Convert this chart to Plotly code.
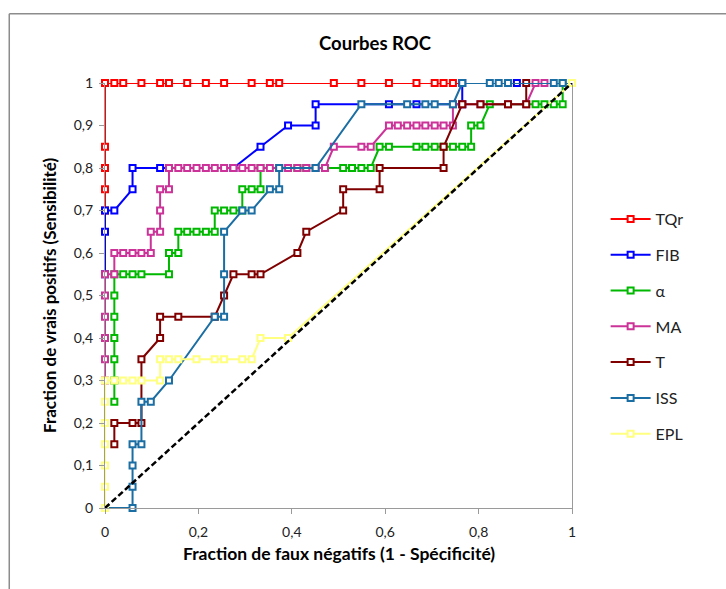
import plotly.graph_objects as go

# ROC curves: x = 1 - specificity, y = sensitivity
tqr_x = [0, 0, 0, 0, 0, 0.020, 0.039, 0.078, 0.118, 0.137, 0.176, 0.216, 0.255,
         0.314, 0.353, 0.373, 0.490, 0.549, 0.608, 0.667, 0.706, 0.725, 0.745, 1]
tqr_y = [0.70, 0.75, 0.80, 0.85, 1, 1, 1, 1, 1, 1, 1, 1, 1,
         1, 1, 1, 1, 1, 1, 1, 1, 1, 1, 1]

fib_x = [0, 0, 0, 0.020, 0.059, 0.059, 0.118, 0.275, 0.333, 0.392, 0.451, 0.451,
         0.608, 0.667, 0.765, 0.765, 0.882, 1]
fib_y = [0.55, 0.65, 0.70, 0.70, 0.75, 0.80, 0.80, 0.80, 0.85, 0.90, 0.90, 0.95,
         0.95, 0.95, 0.95, 1, 1, 1]

alpha_x = [0.020, 0.020, 0.020, 0.020, 0.020, 0.020, 0.020,
           0.039, 0.059, 0.078, 0.137,
           0.137, 0.157,
           0.157, 0.176, 0.196, 0.216, 0.235,
           0.235, 0.255, 0.275, 0.294,
           0.294, 0.314, 0.333,
           0.333, 0.412, 0.431, 0.510, 0.529, 0.549, 0.569,
           0.588, 0.608, 0.667, 0.686, 0.706, 0.725, 0.745, 0.765, 0.784,
           0.784, 0.804,
           0.824, 0.922, 0.941, 0.961, 0.980,
           0.980, 1]
alpha_y = [0.25, 0.30, 0.35, 0.40, 0.45, 0.50, 0.55,
           0.55, 0.55, 0.55, 0.55,
           0.60, 0.60,
           0.65, 0.65, 0.65, 0.65, 0.65,
           0.70, 0.70, 0.70, 0.70,
           0.75, 0.75, 0.75,
           0.80, 0.80, 0.80, 0.80, 0.80, 0.80, 0.80,
           0.85, 0.85, 0.85, 0.85, 0.85, 0.85, 0.85, 0.85, 0.85,
           0.90, 0.90,
           0.95, 0.95, 0.95, 0.95, 0.95,
           1, 1]

ma_x = [0, 0, 0, 0, 0, 0, 0.020, 0.020, 0.039, 0.059, 0.078, 0.098, 0.098, 0.118,
        0.118, 0.118, 0.137, 0.137,
        0.157, 0.176, 0.196, 0.216, 0.235, 0.255, 0.275, 0.294, 0.314, 0.333,
        0.353, 0.373, 0.392, 0.412, 0.431, 0.451, 0.471,
        0.490, 0.549, 0.569,
        0.608, 0.627, 0.647, 0.667, 0.686, 0.706, 0.725, 0.745,
        0.745, 0.765, 0.804, 0.863, 0.902,
        0.922, 0.941, 1]
ma_y = [0.30, 0.35, 0.40, 0.45, 0.50, 0.55, 0.55, 0.60, 0.60, 0.60, 0.60, 0.60, 0.65, 0.65,
        0.70, 0.75, 0.75, 0.80,
        0.80, 0.80, 0.80, 0.80, 0.80, 0.80, 0.80, 0.80, 0.80, 0.80,
        0.80, 0.80, 0.80, 0.80, 0.80, 0.80, 0.80,
        0.85, 0.85, 0.85,
        0.90, 0.90, 0.90, 0.90, 0.90, 0.90, 0.90, 0.90,
        0.95, 0.95, 0.95, 0.95, 0.95,
        1, 1, 1]

t_x = [0.020, 0.020, 0.059, 0.078, 0.078, 0.118, 0.118, 0.157, 0.235, 0.255, 0.275,
       0.314, 0.333, 0.412, 0.431, 0.510, 0.510, 0.588, 0.588, 0.725, 0.725,
       0.765, 0.804, 0.863, 0.902, 0.902, 1]
t_y = [0.15, 0.20, 0.20, 0.20, 0.35, 0.40, 0.45, 0.45, 0.45, 0.50, 0.55,
       0.55, 0.55, 0.60, 0.65, 0.70, 0.75, 0.75, 0.80, 0.80, 0.85,
       0.95, 0.95, 0.95, 0.95, 1, 1]

iss_x = [0, 0.059, 0.059, 0.059, 0.059, 0.078, 0.078, 0.098, 0.137, 0.235, 0.255,
         0.255, 0.255, 0.294, 0.314, 0.353, 0.373, 0.373, 0.451, 0.549, 0.647,
         0.686, 0.706, 0.745, 0.765, 0.824, 0.843, 0.863, 0.961, 0.980, 1]
iss_y = [0, 0, 0.05, 0.10, 0.15, 0.15, 0.25, 0.25, 0.30, 0.45, 0.45,
         0.55, 0.65, 0.70, 0.70, 0.75, 0.75, 0.80, 0.80, 0.95, 0.95,
         0.95, 0.95, 0.95, 1, 1, 1, 1, 1, 1, 1]

epl_x = [0, 0, 0, 0, 0, 0, 0, 0.020, 0.039, 0.059, 0.078, 0.118, 0.118, 0.137,
         0.157, 0.196, 0.235, 0.255, 0.294, 0.314, 0.333, 0.392, 1]
epl_y = [0, 0.05, 0.10, 0.15, 0.20, 0.25, 0.30, 0.30, 0.30, 0.30, 0.30, 0.30, 0.35, 0.35,
         0.35, 0.35, 0.35, 0.35, 0.35, 0.35, 0.40, 0.40, 1]

series = [
    ("TQr", tqr_x, tqr_y, "#FF0000"),
    ("FIB", fib_x, fib_y, "#0000FF"),
    ("α", alpha_x, alpha_y, "#00B800"),
    ("MA", ma_x, ma_y, "#CC3399"),
    ("T", t_x, t_y, "#800000"),
    ("ISS", iss_x, iss_y, "#1B6EA3"),
    ("EPL", epl_x, epl_y, "#FFFF80"),
]

ref_x = [0, 1]
ref_y = [0, 1]

fig = go.Figure()
for name, xs, ys, color in series:
    fig.add_trace(go.Scatter(
        x=xs, y=ys, name=name, mode="lines+markers",
        legendgroup=name,
        line=dict(color=color, width=2),
        marker=dict(symbol="square", size=6, color="white",
                    line=dict(color=color, width=2)),
        cliponaxis=False,
    ))

# chance diagonal
fig.add_trace(go.Scatter(
    x=ref_x, y=ref_y, mode="lines", showlegend=False,
    line=dict(color="black", width=2.5, dash="6px,3px"),
    cliponaxis=False,
))

FONT = "Lato"
axis_common = dict(
    range=[0, 1], showgrid=False, zeroline=False,
    showline=True, linecolor="#9A9A9A", linewidth=1.3,
    ticks="outside", ticklen=5, tickcolor="#9A9A9A", tickwidth=1.3,
    tickfont=dict(family=FONT, size=14, color="#222222"),
)

fig.update_layout(
    width=726, height=589,
    margin=dict(l=105, r=154, t=83, b=81),
    paper_bgcolor="white", plot_bgcolor="white",
    separators=", ",
    font=dict(family=FONT, size=14, color="black"),
    title=dict(text="<b>Courbes ROC</b>", xref="container", yref="container",
               x=375 / 726, y=1 - 44 / 589, xanchor="center", yanchor="middle",
               font=dict(family=FONT, size=18.5, color="black")),
    xaxis=dict(**axis_common, dtick=0.2, ticklabelstandoff=6),
    yaxis=dict(**axis_common, dtick=0.1, mirror=True, ticklabelstandoff=3),
    legend=dict(x=1.072, y=0.72, xanchor="left", yanchor="top",
                font=dict(family=FONT, size=16, color="#222222"),
                tracegroupgap=12, itemwidth=40, bgcolor="rgba(0,0,0,0)"),
    annotations=[
        dict(text="<b>Fraction de faux négatifs (1 - Spécificité)</b>",
             xref="paper", yref="paper", x=0.501, y=-0.108,
             xanchor="center", yanchor="middle", showarrow=False,
             font=dict(family=FONT, size=17.5, color="black")),
        dict(text="<b>Fraction de vrais positifs (Sensibilité)</b>",
             xref="paper", yref="paper", x=-0.119, y=0.5, textangle=-90,
             xanchor="center", yanchor="middle", showarrow=False,
             font=dict(family=FONT, size=17, color="black")),
    ],
    shapes=[
        # chart area frame (left and top edges)
        dict(type="line", xref="paper", yref="paper",
             x0=-0.205, x1=-0.205, y0=1.163, y1=-0.2, line=dict(color="#8C8C8C", width=1.5)),
        dict(type="line", xref="paper", yref="paper",
             x0=-0.205, x1=1.4, y0=1.163, y1=1.163, line=dict(color="#8C8C8C", width=1.5)),
    ],
)

fig.write_html("out.html")
